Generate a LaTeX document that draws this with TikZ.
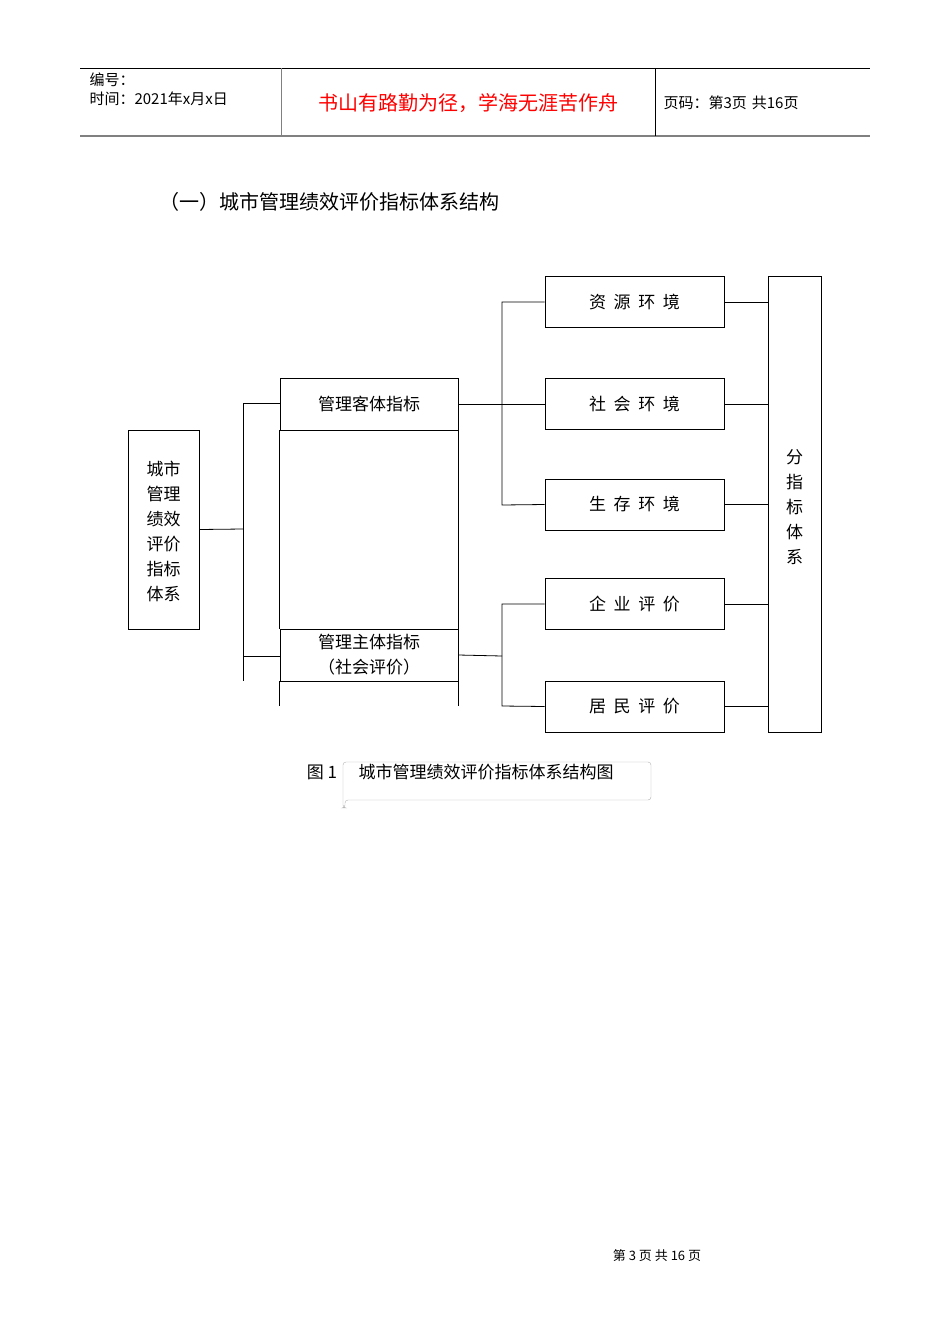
\documentclass[tikz,border=0pt]{standalone}
\usepackage{fontspec}
\setmainfont{Noto Sans CJK SC}
\begin{document}
\begin{tikzpicture}[x=1pt,y=-1pt,
  bx/.style={draw,line width=0.8pt,inner sep=0},
  ln/.style={line width=0.8pt},
  lab/.style={font=\fontsize{17}{21}\selectfont}]
\useasboundingbox[fill=white] (0,0) rectangle (950,1344);
% header
\draw[line width=1pt] (80,68) -- (870,68);
\draw[line width=1.2pt,gray] (80,136) -- (870,136);
\draw[line width=0.8pt,gray] (281,68) -- (281,136);
\draw[line width=0.8pt] (655,68) -- (655,136);
\node[anchor=west,font=\fontsize{15}{18}\selectfont] (h1) at (86,80) {编号：};
\node[anchor=west,font=\fontsize{15}{18}\selectfont] (h2) at (86,99) {时间：2021年x月x日};
\node[font=\fontsize{20}{24}\selectfont,text=red] (h3) at (468,103) {书山有路勤为径，学海无涯苦作舟};
\node[anchor=west,font=\fontsize{15}{18}\selectfont] (h4) at (660,103) {页码：第3页\,\,共16页};
% title
\node[anchor=west,font=\fontsize{20}{24}\selectfont] (title) at (156,202) {（一）城市管理绩效评价指标体系结构};
% left box
\node[bx,minimum width=71,minimum height=199] (root) at (163.5,529.5) {};
\foreach \t [count=\i] in {城市,管理,绩效,评价,指标,体系}
  \node[lab] at (163.5,444+25*\i) {\t};
% middle column
\node[bx,minimum width=178,minimum height=52,lab] (ke) at (369,404) {管理客体指标};
\node[bx,minimum width=178,minimum height=52,align=center,font=\fontsize{17}{25}\selectfont] (zhu) at (369,655) {管理主体指标\\（社会评价）};
\draw[ln] (ke.south west) -- (zhu.north west) (ke.south east) -- (zhu.north east);
\draw[ln] (zhu.south west) -- ++(0,25) (zhu.south east) -- ++(0,25);
% left connectors
\coordinate (j1) at (243,529);
\draw[ln] (root.east) -- (j1);
\draw[ln] (243,403) -- (243,681);
\draw[ln] (243,403) -- (ke.west|-243,403);
\draw[ln] (243,656) -- (zhu.west|-243,656);
% right boxes
\foreach \n/\t/\y in {a/资\ \ 源\ \ 环\ \ 境/302, b/社\ \ 会\ \ 环\ \ 境/404, c/生\ \ 存\ \ 环\ \ 境/504.5, d/企\ \ 业\ \ 评\ \ 价/604, e/居\ \ 民\ \ 评\ \ 价/706.5}
  \node[bx,minimum width=179,minimum height=51,lab] (\n) at (634.5,\y) {\t};
\draw[ln] (ke.east) -- (b.west);
\draw[ln] (a.west) -| (502,505) -- (c.west);
\draw[ln] (zhu.east) -- (502,656);
\draw[ln] (d.west) -| (502,706) -- (e.west);
% big right box
\node[bx,minimum width=53,minimum height=456] (fen) at (794.5,504) {};
\foreach \t [count=\i] in {分,指,标,体,系}
  \node[lab] at (794.5,432+25*\i) {\t};
\foreach \n in {a,b,c,d,e} \draw[ln] (\n.east) -- (\n.east-|fen.west);
% caption
\draw[gray!60,rounded corners=3pt] (343,762) -- (651,762) -- (651,800) -- (345,800) -- (345,808) -- (343,808) -- cycle;
\node[font=\fontsize{17}{20}\selectfont] (cap1) at (322,772) {图 1};
\node[font=\fontsize{17}{20}\selectfont,anchor=west] (cap2) at (355,772) {城市管理绩效评价指标体系结构图};
% footer
\node[font=\fontsize{13}{16}\selectfont] (foot) at (657,1256) {第 3 页 共 16 页};
\end{tikzpicture}
\end{document}
